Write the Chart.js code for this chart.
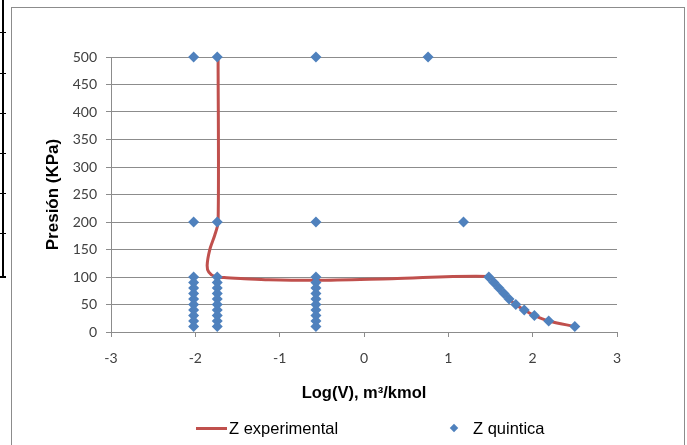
<!DOCTYPE html>
<html>
<head>
<meta charset="utf-8">
<script src="https://cdn.jsdelivr.net/npm/chart.js@4"></script>
<style>
    body { margin: 0; background: #fff; }
    #wrap { position: relative; width: 687px; height: 445px; overflow: hidden; }
    #frame { position: absolute; left: 11px; top: 7px; width: 672px; height: 460px; border: 1px solid #8c8c8c; }
    #tableEdge { position: absolute; left: 2px; top: 0; width: 2px; height: 278px; background: #000; }
    .mark { position: absolute; left: 0; width: 6px; height: 1px; background: #000; }
    canvas { position: absolute; left: 0; top: 0; }
    .leg { position: absolute; font: 16.5px "Liberation Sans", Arial, sans-serif; color: #000; line-height: 20px; top: 418px; }
    #legLine { position: absolute; left: 196px; top: 427px; width: 31px; height: 3px; background: #C0504D; }
    #legDiamond { position: absolute; left: 451px; top: 425px; width: 6px; height: 6px; background: #4F81BD; transform: rotate(45deg); }
</style>
</head>
<body>
<div id="wrap">
    <div id="frame"></div>
    <div id="tableEdge"></div>
    <div class="mark" style="top:32px"></div>
    <div class="mark" style="top:73px"></div>
    <div class="mark" style="top:113px"></div>
    <div class="mark" style="top:153px"></div>
    <div class="mark" style="top:193px"></div>
    <div class="mark" style="top:233px"></div>
    <div class="mark" style="top:276px;height:2px"></div>
    <canvas id="chart" width="687" height="445"></canvas>
    <div id="legLine"></div>
    <div class="leg" style="left:229px">Z experimental</div>
    <div id="legDiamond"></div>
    <div class="leg" style="left:473px">Z quintica</div>
</div>
<script>
// Z quintica (diamonds): log(V) and pressure
let quinticaV = [
    -2.02, -2.02,
    -2.02, -2.02, -2.02, -2.02, -2.02, -2.02, -2.02, -2.02, -2.02, -2.02,
    -1.74, -1.74,
    -1.74, -1.74, -1.74, -1.74, -1.74, -1.74, -1.74, -1.74, -1.74, -1.74,
    -0.57, -0.57,
    -0.57, -0.57, -0.57, -0.57, -0.57, -0.57, -0.57, -0.57, -0.57, -0.57,
    0.76, 1.18,
    1.48, 1.54, 1.60, 1.66, 1.72, 1.80, 1.90, 2.02, 2.19, 2.50
];
let quinticaP = [
    500, 200,
    100, 90, 80, 70, 60, 50, 40, 30, 20, 10,
    500, 200,
    100, 90, 80, 70, 60, 50, 40, 30, 20, 10,
    500, 200,
    100, 90, 80, 70, 60, 50, 40, 30, 20, 10,
    500, 200,
    100, 90, 80, 70, 60, 50, 40, 30, 20, 10
];

// Z experimental (red curve)
let experimentalV = [-1.73, -1.73, -1.77, -1.83, -1.86, -1.84, -1.77, -1.66, -1.42, -1.13, -0.57, 0.33, 1.48, 1.54, 1.60, 1.66, 1.72, 1.80, 1.90, 2.02, 2.19, 2.50];
let experimentalP = [500, 200, 176, 149, 121, 109, 101, 99, 97, 95, 94, 97, 101, 90, 80, 70, 60, 50, 40, 30, 20, 10];

let xTicks = [-3, -2, -1, 0, 1, 2, 3];
let yTicks = [0, 50, 100, 150, 200, 250, 300, 350, 400, 450, 500];

let gridColor = "#8c8c8c";
let tickFont = { family: "Lato, sans-serif", size: 14 };

function points(xs, ys) {
    return xs.map((x, i) => ({ x: x, y: ys[i] }));
}

new Chart(document.getElementById("chart"), {
    type: "scatter",
    data: {
        datasets: [
            {
                label: "Z quintica",
                data: points(quinticaV, quinticaP),
                pointStyle: "rectRot",
                pointRadius: 5.5,
                borderWidth: 0,
                backgroundColor: "#4F81BD",
                borderColor: "#4F81BD",
                clip: false,
                order: 0
            },
            {
                label: "Z experimental",
                data: points(experimentalV, experimentalP),
                showLine: true,
                borderColor: "#C0504D",
                borderWidth: 3,
                pointRadius: 0,
                tension: 0.3,
                clip: false,
                order: 1
            }
        ]
    },
    options: {
        responsive: false,
        animation: false,
        layout: { padding: { top: 57, right: 70, left: 0, bottom: 0 } },
        plugins: { legend: { display: false }, tooltip: { enabled: false } },
        scales: {
            x: {
                type: "linear",
                min: xTicks[0],
                max: xTicks[xTicks.length - 1],
                afterBuildTicks: s => { s.ticks = xTicks.map(v => ({ value: v })); },
                afterFit: s => { s.height = 113; },
                ticks: { font: tickFont, color: "#404040", padding: 13 },
                grid: { drawOnChartArea: false, drawTicks: true, tickLength: 5, color: gridColor },
                border: { color: gridColor },
                title: {
                    display: true,
                    text: "Log(V), m³/kmol",
                    color: "#000",
                    font: { family: "Liberation Sans, Arial, sans-serif", size: 16.5, weight: "bold" },
                    padding: { top: 0, bottom: 42 }
                }
            },
            y: {
                min: yTicks[0],
                max: yTicks[yTicks.length - 1],
                afterBuildTicks: s => { s.ticks = yTicks.map(v => ({ value: v })); },
                afterFit: s => { s.width = 111; },
                ticks: { font: tickFont, color: "#404040", padding: 9 },
                grid: { drawTicks: true, tickLength: 5, color: gridColor },
                border: { color: gridColor },
                title: {
                    display: true,
                    text: "Presión (KPa)",
                    color: "#000",
                    font: { family: "Liberation Sans, Arial, sans-serif", size: 17, weight: "bold" },
                    padding: { top: 43, bottom: 0 }
                }
            }
        }
    }
});
</script>
</body>
</html>
